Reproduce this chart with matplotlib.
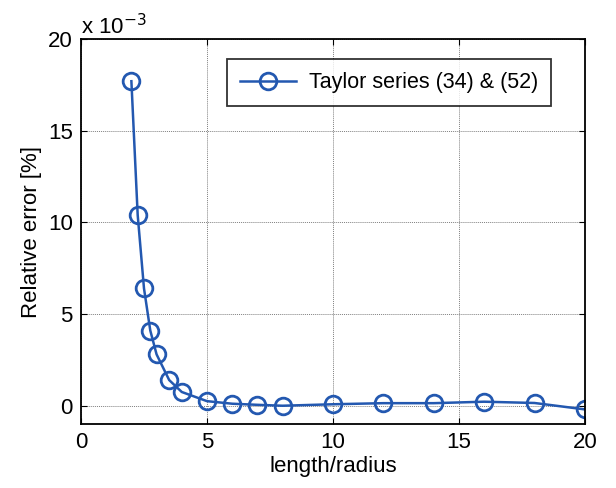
import numpy as np
import matplotlib.pyplot as plt

# length/radius ratio and relative error (x 10^-3 %)
ratio = [2, 2.25, 2.5, 2.75, 3, 3.5, 4, 5, 6, 7, 8, 10, 12, 14, 16, 18, 20]
rel_err = [17.7, 10.4, 6.4, 4.1, 2.8, 1.4, 0.75, 0.25, 0.11, 0.05, 0.0,
           0.08, 0.14, 0.14, 0.22, 0.15, -0.2]

plt.rcParams['font.family'] = ['Liberation Sans', 'DejaVu Sans']

fig = plt.figure(figsize=(6.16, 4.88), dpi=100)
ax = fig.add_axes([0.1315, 0.131, 0.818, 0.789])

ax.plot(ratio, rel_err, '-o', color='#2358b0', linewidth=1.8,
        markersize=12, markerfacecolor='none', markeredgewidth=2.0,
        label='Taylor series (34) & (52)')

ax.set_xlim(0, 20)
ax.set_ylim(-1, 20)
ax.set_xticks([0, 5, 10, 15, 20])
ax.set_yticks([0, 5, 10, 15, 20])
ax.grid(True, linestyle=(0, (1, 1)), color='#808080', linewidth=0.7)
ax.tick_params(direction='in', top=True, right=True, labelsize=16, length=4, pad=6)
for s in ax.spines.values():
    s.set_linewidth(1.3)

ax.set_xlabel('length/radius', fontsize=16, labelpad=2)
ax.set_ylabel('Relative error [%]', fontsize=16, labelpad=4)
ax.text(0.0, 1.0, r'x 10$^{-3}$', transform=ax.transAxes, fontsize=16,
        ha='left', va='bottom')

leg = ax.legend(loc='upper right', fontsize=15.5, frameon=True, fancybox=False,
                borderpad=0.6, handlelength=2.6, handletextpad=0.6,
                bbox_to_anchor=(0.955, 0.975))
leg.get_frame().set_edgecolor('black')
leg.get_frame().set_linewidth(1.3)

fig.savefig('out.png', dpi=100)
